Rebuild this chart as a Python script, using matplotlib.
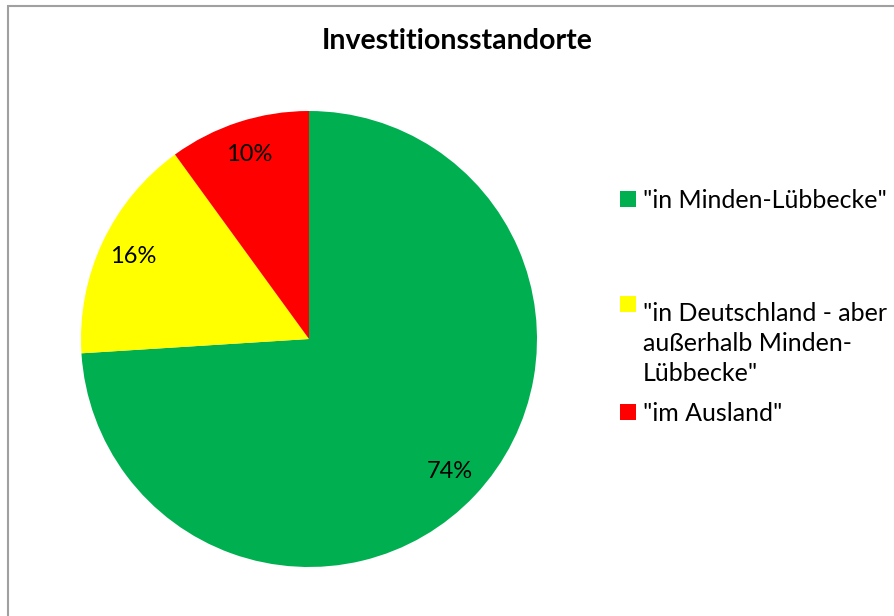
import matplotlib.pyplot as plt
from matplotlib.patches import Rectangle

plt.rcParams['font.family'] = ['Lato', 'DejaVu Sans']

labels = ['"in Minden-Lübbecke"',
          '"in Deutschland - aber\naußerhalb Minden-\nLübbecke"',
          '"im Ausland"']
shares = [74, 16, 10]
colors = ['#00B050', '#FFFF00', '#FF0000']

W, H = 895, 616
fig = plt.figure(figsize=(W / 100, H / 100), dpi=100)

# chart frame (cut off at right and bottom like the original)
fig.patches.append(Rectangle((8 / W, -0.1), 1.2, (H - 6) / H + 0.1, transform=fig.transFigure,
                             fill=False, edgecolor='#A0A0A0', linewidth=1.5))

# pie axes: center (309, 339), radius 228 px
cx, cy, r = 309, 339, 228
ax = fig.add_axes([(cx - r) / W, (H - cy - r) / H, 2 * r / W, 2 * r / H])
wedges, texts, autotexts = ax.pie(shares, colors=colors, startangle=90, counterclock=False,
                                  autopct='%d%%', pctdistance=0.85, radius=1,
                                  textprops={'fontsize': 17, 'color': 'black'})
ax.set_xlim(-1, 1)
ax.set_ylim(-1, 1)
ax.set_aspect('equal')
ax.axis('off')

fig.text(457 / W, 1 - 41 / H, 'Investitionsstandorte', ha='center', va='center',
         fontsize=20.5, fontweight='bold')

# legend, placed like the Excel legend
legend_base = [208, 313, 421]
for lab, col, y in zip(labels, colors, legend_base):
    fig.patches.append(Rectangle((620 / W, 1 - (y - 1) / H), 16 / W, 16 / H,
                                 transform=fig.transFigure, facecolor=col, edgecolor='none'))
    n = lab.count('\n')
    # baseline of the first line at y
    fig.text(643 / W, 1 - (y + n * 34) / H, lab, ha='left', va='baseline', fontsize=18,
             linespacing=1.36)

fig.savefig('out.png', dpi=100)
